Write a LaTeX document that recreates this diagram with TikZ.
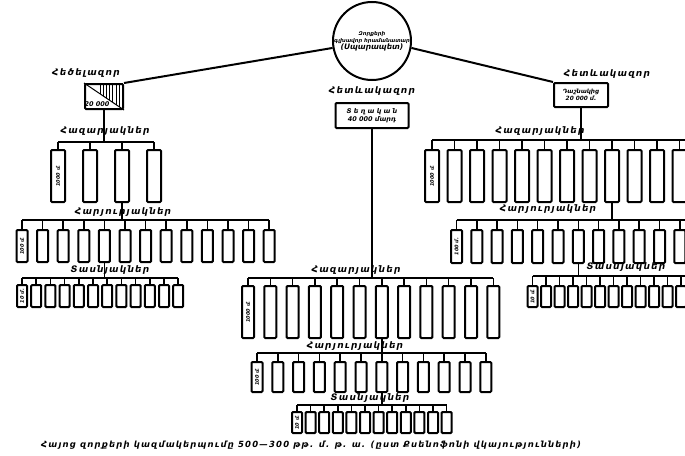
\documentclass[tikz,border=0pt]{standalone}
\usepackage{fontspec}
\usetikzlibrary{calc}
\setmainfont{DejaVu Sans}
\newfontfamily\armsp[LetterSpace=14]{DejaVu Sans}
\newcommand{\lblfont}{\armsp\bfseries\itshape\fontsize{9}{10}\selectfont}
\newcommand{\boxfont}{\bfseries\itshape\fontsize{5}{6}\selectfont}

\begin{document}
\begin{tikzpicture}[x=1pt,y=-1pt]
			\tikzstyle{lbl} = [font=\lblfont, inner sep=0]
			\tikzstyle{unit} = [draw, line width=2pt, rounded corners=1pt, inner sep=0]
			\tikzstyle{bus} = [line width=1.5pt]
			\tikzstyle{wing} = [line width=2pt]
			\clip (0,0) rectangle (685,455);
			\fill[white] (0,0) rectangle (685,455);
			% command
			\node [circle, draw, line width=2pt, minimum size=74, inner sep=0, align=center, font=\bfseries\itshape\fontsize{5.2}{7}\selectfont] (chief) at (372,41) {Զորքերի\\գլխավոր հրամանատար\\{\fontsize{7.5}{9}\selectfont (Սպարապետ)}};
			\node [lbl] (lhead) at (86,73) {Հեծելազոր};
			\node [lbl] (mhead) at (372,91) {Հետևակազոր};
			\node [lbl] (rhead) at (607,74) {Հետևակազոր};
			\node [unit, minimum width=38, minimum height=25] (lbox) at (104,96.5) {};
			\node [unit, minimum width=73, minimum height=25, align=center, font=\bfseries\itshape\fontsize{6.5}{8}\selectfont] (mbox) at (372,115.5) {Տ ե ղ ա կ ա ն\\40 000 մարդ};
			\node [unit, minimum width=54, minimum height=24, align=center, font=\bfseries\itshape\fontsize{5.8}{7}\selectfont] (rbox) at (581,95) {Դաշնակից\\20 000 մ.};
			\draw [line width=1pt] (lbox.north west) -- (lbox.south east);
			\foreach \t in {0.4,0.48,...,0.96}
			{
				\draw [line width=1pt] ($(lbox.north west)!\t!(lbox.north east)$) -- ($(lbox.north west)!\t!(lbox.south east)$);
			}
			\node [font=\bfseries\itshape\fontsize{6.5}{7}\selectfont, inner sep=0] (lnum) at (97,104.5) {20 000};
			\draw [wing] (chief.190) -- (lbox.north east);
			\draw [wing] (chief.350) -- (rbox.north west);
			% left wing
			\node [lbl] (ltlbl) at (105,131) {Հազարյակներ};
			\node [unit, minimum width=14, minimum height=52] (lt1) at (58,176) {\rotatebox{90}{\boxfont 1000 մ.}};
			\foreach \i in {2,...,4}
				\node [unit, minimum width=14, minimum height=52] (lt\i) at ({58+32*(\i-1)},176) {};
			\coordinate (ltbw) at (58,142); \coordinate (ltbe) at (154,142);
			\draw [bus] (ltbw) -- (ltbe);
			\foreach \i in {1,...,4}
				\draw [bus] (lt\i.north) -- (lt\i.north |- ltbw);
			\draw [bus] (lbox.south) -- (lbox.south |- ltbw);
			\node [lbl] (lhlbl) at (123,212) {Հարյուրյակներ};
			\node [unit, minimum width=11, minimum height=32] (lh1) at (22,246) {\rotatebox{90}{\boxfont 100 մ.}};
			\foreach \i in {2,...,13}
				\node [unit, minimum width=11, minimum height=32] (lh\i) at ({22+20.6*(\i-1)},246) {};
			\coordinate (lhbw) at (22,220); \coordinate (lhbe) at (269,220);
			\draw [bus] (lhbw) -- (lhbe);
			\foreach \i in {1,...,13}
				\draw [bus] (lh\i.north) -- (lh\i.north |- lhbw);
			\draw [bus] (lt3.south) -- (lt3.south |- lhbw);
			\node [lbl] (ldlbl) at (110,270) {Տասնյակներ};
			\node [unit, minimum width=10, minimum height=22] (ld1) at (22,296) {\rotatebox{90}{\boxfont 10 մ.}};
			\foreach \i in {2,...,12}
				\node [unit, minimum width=10, minimum height=22] (ld\i) at ({22+14.2*(\i-1)},296) {};
			\coordinate (ldbw) at (22,278); \coordinate (ldbe) at (178,278);
			\draw [bus] (ldbw) -- (ldbe);
			\foreach \i in {1,...,12}
				\draw [bus] (ld\i.north) -- (ld\i.north |- ldbw);
			\draw [bus] (lh5.south) -- (lh5.south |- ldbw);
			% centre
			\node [lbl] (mtlbl) at (356,270) {Հազարյակներ};
			\node [unit, minimum width=12, minimum height=52] (mt1) at (248,312) {\rotatebox{90}{\boxfont 1000 մ.}};
			\foreach \i in {2,...,12}
				\node [unit, minimum width=12, minimum height=52] (mt\i) at ({248+22.3*(\i-1)},312) {};
			\coordinate (mtbw) at (248,278); \coordinate (mtbe) at (493,278);
			\draw [bus] (mtbw) -- (mtbe);
			\foreach \i in {1,...,12}
				\draw [bus] (mt\i.north) -- (mt\i.north |- mtbw);
			\draw [bus] (mbox.south) -- (mbox.south |- mtbw);
			\node [lbl] (mhlbl) at (355,346) {Հարյուրյակներ};
			\node [unit, minimum width=11, minimum height=30] (mh1) at (257,377) {\rotatebox{90}{\boxfont 100 մ.}};
			\foreach \i in {2,...,12}
				\node [unit, minimum width=11, minimum height=30] (mh\i) at ({257+20.8*(\i-1)},377) {};
			\coordinate (mhbw) at (257,353); \coordinate (mhbe) at (486,353);
			\draw [bus] (mhbw) -- (mhbe);
			\foreach \i in {1,...,12}
				\draw [bus] (mh\i.north) -- (mh\i.north |- mhbw);
			\draw [bus] (mt7.south) -- (mt7.south |- mhbw);
			\node [lbl] (mdlbl) at (370,398) {Տասնյակներ};
			\node [unit, minimum width=10, minimum height=21] (md1) at (297,422.5) {\rotatebox{90}{\boxfont 10 մ.}};
			\foreach \i in {2,...,12}
				\node [unit, minimum width=10, minimum height=21] (md\i) at ({297+13.6*(\i-1)},422.5) {};
			\coordinate (mdbw) at (297,405); \coordinate (mdbe) at (447,405);
			\draw [bus] (mdbw) -- (mdbe);
			\foreach \i in {1,...,12}
				\draw [bus] (md\i.north) -- (md\i.north |- mdbw);
			\draw [bus] (mh7.south) -- (mh7.south |- mdbw);
			% right wing
			\node [lbl] (rtlbl) at (540,131) {Հազարյակներ};
			\node [unit, minimum width=14, minimum height=52] (rt1) at (432,176) {\rotatebox{90}{\boxfont 1000 մ.}};
			\foreach \i in {2,...,12}
				\node [unit, minimum width=14, minimum height=52] (rt\i) at ({432+22.5*(\i-1)},176) {};
			\coordinate (rtbw) at (432,140); \coordinate (rtbe) at (690,140);
			\draw [bus] (rtbw) -- (rtbe);
			\foreach \i in {1,...,12}
				\draw [bus] (rt\i.north) -- (rt\i.north |- rtbw);
			\draw [bus] (rbox.south) -- (rbox.south |- rtbw);
			\node [lbl] (rhlbl) at (548,209) {Հարյուրյակներ};
			\node [unit, minimum width=11, minimum height=33] (rh1) at (456.5,246.5) {\rotatebox{90}{\boxfont 100 մ.}};
			\foreach \i in {2,...,12}
				\node [unit, minimum width=11, minimum height=33] (rh\i) at ({456.5+20.3*(\i-1)},246.5) {};
			\coordinate (rhbw) at (456.5,220); \coordinate (rhbe) at (690,220);
			\draw [bus] (rhbw) -- (rhbe);
			\foreach \i in {1,...,12}
				\draw [bus] (rh\i.north) -- (rh\i.north |- rhbw);
			\draw [bus] (rt9.south) -- (rt9.south |- rhbw);
			\node [lbl] (rdlbl) at (626,267) {Տասնյակներ};
			\node [unit, minimum width=10, minimum height=21] (rd1) at (532.5,296.5) {\rotatebox{90}{\boxfont 10 մ.}};
			\foreach \i in {2,...,12}
				\node [unit, minimum width=10, minimum height=21] (rd\i) at ({532.5+13.5*(\i-1)},296.5) {};
			\coordinate (rdbw) at (532.5,276); \coordinate (rdbe) at (690,276);
			\draw [bus] (rdbw) -- (rdbe);
			\foreach \i in {1,...,12}
				\draw [bus] (rd\i.north) -- (rd\i.north |- rdbw);
			\draw [bus] (rh7.south) -- (rh7.south |- rdbw);
			% caption
			\node [font=\armsp\bfseries\itshape\fontsize{8.5}{9}\selectfont, inner sep=0] (caption) at (311,445) {Հայոց զորքերի կազմակերպումը 500—300 թթ. մ. թ. ա. (ըստ Քսենոֆոնի վկայությունների)};
\end{tikzpicture}
\end{document}
